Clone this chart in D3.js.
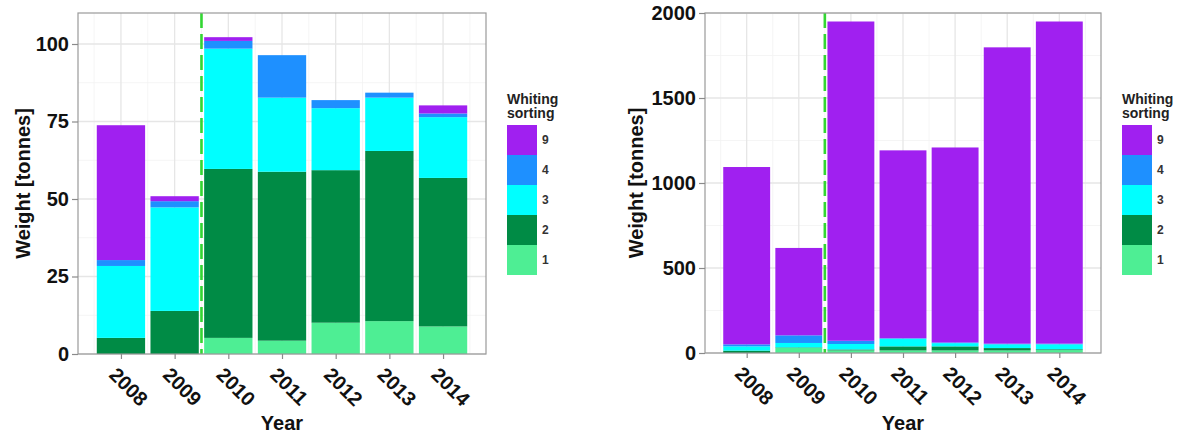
<!DOCTYPE html>
<html>
<head>
<meta charset="utf-8">
<script src="https://cdn.jsdelivr.net/npm/d3@7"></script>
<style>
  body { margin: 0; background: #fff; }
  svg text { font-family: "Liberation Sans", Arial, sans-serif; }
</style>
</head>
<body>
<div id="chart"></div>
<script>

// years on the x axis
const years = [2008, 2009, 2010, 2011, 2012, 2013, 2014];

// sorting categories, bottom to top of each stack
const sortingCategories = ["1", "2", "3", "4", "9"];
const sortingColors = ["#4EEE94", "#008B45", "#00FFFF", "#1E90FF", "#A020F0"];

// left panel, weight [tonnes] per sorting category
const leftSort1 = [0, 0, 5.2, 4.3, 10.1, 10.6, 8.9];
const leftSort2 = [5.2, 13.9, 54.5, 54.5, 49.2, 54.9, 47.9];
const leftSort3 = [23.2, 33.4, 38.8, 23.9, 20.0, 17.2, 19.6];
const leftSort4 = [1.9, 2.0, 2.5, 13.7, 2.6, 1.6, 1.2];
const leftSort9 = [43.5, 1.6, 1.2, 0, 0, 0, 2.6];
const leftTicks = [0, 25, 50, 75, 100];
const leftMinorTicks = [12.5, 37.5, 62.5, 87.5];
const leftMax = 110;

// right panel, weight [tonnes] per sorting category
const rightSort1 = [0, 30, 15, 15, 15, 15, 17];
const rightSort2 = [14, 3, 6, 24, 24, 14, 5];
const rightSort3 = [25, 26, 32, 45, 19, 22, 29];
const rightSort4 = [12, 45, 19, 3, 4, 4, 4];
const rightSort9 = [1043, 514, 1878, 1105, 1147, 1743, 1895];
const rightTicks = [0, 500, 1000, 1500, 2000];
const rightMinorTicks = [250, 750, 1250, 1750];
const rightMax = 2000;

// dashed separation line
const dividerYear = 2009.5;

const legendTitle = ["Whiting", "sorting"];


class StackedYearChart {

    constructor(svg, box, series, ticks, minorTicks, yMax, legendX, titleX) {
        this.svg = svg;
        this.box = box;
        this.series = series;
        this.ticks = ticks;
        this.minorTicks = minorTicks;
        this.yMax = yMax;
        this.legendX = legendX;
        this.titleX = titleX;

        // one row per year, one column per sorting category
        this.data = years.map((y, i) => {
            let row = {year: y};
            sortingCategories.forEach((c, j) => { row[c] = series[j][i]; });
            return row;
        });

        this.initVis();
    }

    initVis() {
        let vis = this;
        let b = vis.box;

        vis.x = d3.scaleLinear().domain([2007.2, 2014.8]).range([b.left, b.right]);
        vis.y = d3.scaleLinear().domain([0, vis.yMax]).range([b.bottom, b.top]);
        vis.color = d3.scaleOrdinal().domain(sortingCategories).range(sortingColors);

        let g = vis.svg.append("g");

        // grid lines
        let minorX = years.map(d => d - 0.5).concat([years[years.length - 1] + 0.5]);
        g.selectAll(".vminor").data(minorX).enter().append("line")
            .attr("x1", d => vis.x(d)).attr("x2", d => vis.x(d))
            .attr("y1", b.top).attr("y2", b.bottom)
            .attr("stroke", "#F2F2F2").attr("stroke-width", 0.8);
        g.selectAll(".hminor").data(vis.minorTicks).enter().append("line")
            .attr("x1", b.left).attr("x2", b.right)
            .attr("y1", d => vis.y(d)).attr("y2", d => vis.y(d))
            .attr("stroke", "#F2F2F2").attr("stroke-width", 0.8);
        g.selectAll(".vmajor").data(years).enter().append("line")
            .attr("x1", d => vis.x(d)).attr("x2", d => vis.x(d))
            .attr("y1", b.top).attr("y2", b.bottom)
            .attr("stroke", "#E6E6E6").attr("stroke-width", 1.3);
        g.selectAll(".hmajor").data(vis.ticks).enter().append("line")
            .attr("x1", b.left).attr("x2", b.right)
            .attr("y1", d => vis.y(d)).attr("y2", d => vis.y(d))
            .attr("stroke", "#E6E6E6").attr("stroke-width", 1.3);

        // stacked bars
        let stacked = d3.stack().keys(sortingCategories)(vis.data);
        let barW = vis.x(2008.9) - vis.x(2008);

        g.selectAll(".layer").data(stacked).enter().append("g")
            .attr("fill", d => vis.color(d.key))
            .selectAll("rect").data(d => d).enter().append("rect")
            .attr("x", d => vis.x(d.data.year) - barW / 2)
            .attr("width", barW)
            .attr("y", d => vis.y(d[1]))
            .attr("height", d => vis.y(d[0]) - vis.y(d[1]));

        // dashed separation line
        g.append("line")
            .attr("x1", vis.x(dividerYear)).attr("x2", vis.x(dividerYear))
            .attr("y1", b.top).attr("y2", b.bottom)
            .attr("stroke", "#33D633")
            .attr("stroke-width", 2.6)
            .attr("stroke-dasharray", "15,6");

        // panel border
        g.append("rect")
            .attr("x", b.left).attr("y", b.top)
            .attr("width", b.right - b.left).attr("height", b.bottom - b.top)
            .attr("fill", "none").attr("stroke", "#9A9A9A").attr("stroke-width", 1.2);

        // y axis ticks and labels
        let yAxis = d3.axisLeft(vis.y).tickValues(vis.ticks).tickSize(6).tickPadding(3)
            .tickFormat(d3.format("d"));
        let ya = g.append("g").attr("transform", "translate(" + b.left + ",0)").call(yAxis);
        ya.select(".domain").remove();
        ya.selectAll(".tick line").attr("stroke", "#8A8A8A").attr("stroke-width", 1.2);
        ya.selectAll(".tick text")
            .attr("font-size", 20).attr("font-weight", "bold").attr("fill", "#111")
            .attr("font-family", "'Liberation Sans', Arial, sans-serif");

        // x axis ticks and rotated labels
        let xAxis = d3.axisBottom(vis.x).tickValues(years).tickSize(5).tickFormat("");
        let xa = g.append("g").attr("transform", "translate(0," + b.bottom + ")").call(xAxis);
        xa.select(".domain").remove();
        xa.selectAll(".tick line").attr("stroke", "#8A8A8A").attr("stroke-width", 1.2);

        g.selectAll(".xlabel").data(years).enter().append("text")
            .attr("transform", d => "translate(" + (vis.x(d) - 13) + "," + (b.bottom + 22) + ") rotate(45)")
            .attr("font-size", 20).attr("font-weight", "bold").attr("fill", "#111")
            .text(d => d);

        // axis titles
        g.append("text")
            .attr("transform", "translate(" + vis.titleX + "," + ((b.top + b.bottom) / 2) + ") rotate(-90)")
            .attr("text-anchor", "middle")
            .attr("font-size", 20).attr("font-weight", "bold").attr("fill", "#111")
            .text("Weight [tonnes]");
        g.append("text")
            .attr("x", (b.left + b.right) / 2).attr("y", 430)
            .attr("text-anchor", "middle")
            .attr("font-size", 20).attr("font-weight", "bold").attr("fill", "#111")
            .text("Year");

        // legend
        let lg = vis.svg.append("g").attr("transform", "translate(" + vis.legendX + ",0)");
        lg.selectAll(".ltitle").data(legendTitle).enter().append("text")
            .attr("x", 0).attr("y", (d, i) => 104 + i * 14)
            .attr("font-size", 14).attr("font-weight", "bold").attr("fill", "#222")
            .text(d => d);

        let keys = sortingCategories.slice().reverse();
        let keyH = 30;
        lg.selectAll(".lkey").data(keys).enter().append("rect")
            .attr("x", 0).attr("y", (d, i) => 125 + i * keyH)
            .attr("width", 30).attr("height", keyH)
            .attr("fill", d => vis.color(d));
        lg.selectAll(".llabel").data(keys).enter().append("text")
            .attr("x", 35).attr("y", (d, i) => 125 + i * keyH + keyH / 2)
            .attr("dy", "0.35em")
            .attr("font-size", 12).attr("font-weight", "bold").attr("fill", "#333")
            .text(d => d);
    }
}

let svg = d3.select("#chart").append("svg")
    .attr("width", 1178)
    .attr("height", 435);

new StackedYearChart(svg, {left: 78, right: 486, top: 13, bottom: 354},
    [leftSort1, leftSort2, leftSort3, leftSort4, leftSort9],
    leftTicks, leftMinorTicks, leftMax, 507, 30);

new StackedYearChart(svg, {left: 705, right: 1101, top: 13, bottom: 353},
    [rightSort1, rightSort2, rightSort3, rightSort4, rightSort9],
    rightTicks, rightMinorTicks, rightMax, 1122, 643);

</script>
</body>
</html>
